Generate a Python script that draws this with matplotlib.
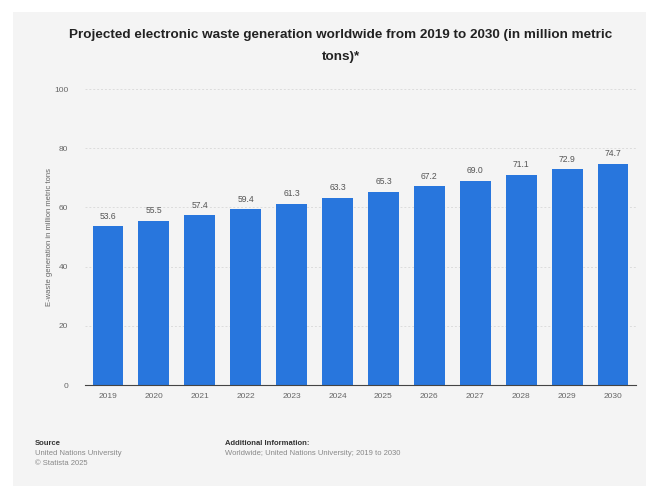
import matplotlib
matplotlib.use("Agg")
import matplotlib.pyplot as plt
from matplotlib.patches import Rectangle

years = ["2019", "2020", "2021", "2022", "2023", "2024", "2025", "2026", "2027", "2028", "2029", "2030"]
values = [53.6, 55.5, 57.4, 59.4, 61.3, 63.3, 65.3, 67.2, 69.0, 71.1, 72.9, 74.7]
yticks = [0, 20, 40, 60, 80, 100]

plt.rcParams['font.family'] = ['Liberation Sans', 'DejaVu Sans']

W, H = 646, 486
fig = plt.figure(figsize=(W / 100, H / 100), dpi=100)
fig.patch.set_facecolor("white")
fig.patches.append(Rectangle((13 / W, 0.5 / H), 1 - 13 / W, (H - 12.5) / H,
                             transform=fig.transFigure, facecolor="#f4f4f4",
                             edgecolor="none", zorder=-10))

ax = fig.add_axes([85 / W, 1 - 385 / H, (636 - 85) / W, (385 - 89) / H])
ax.set_facecolor("#f4f4f4")
x = list(range(len(years)))
ax.bar(x, values, width=0.67, color="#2876dd", zorder=3)
for xi, v in zip(x, values):
    ax.annotate(f"{v:.1f}", (xi, v), xytext=(0, 4), textcoords="offset points",
                ha="center", va="bottom", fontsize=6.2, color="#555555")
ax.set_xlim(-0.5, len(years) - 0.5)
ax.set_ylim(0, 100)
ax.set_yticks(yticks)
ax.set_yticklabels([str(t) for t in yticks])
ax.set_xticks(x)
ax.set_xticklabels(years)
ax.tick_params(axis="both", length=0, labelsize=6, colors="#666666")
ax.tick_params(axis="y", pad=12)
ax.tick_params(axis="x", pad=6)
ax.grid(axis="y", color="#dcdcdc", linestyle=(0, (2, 2)), linewidth=0.7, zorder=0)
for s in ["top", "right", "left"]:
    ax.spines[s].set_visible(False)
ax.spines["bottom"].set_color("#444444")
ax.spines["bottom"].set_linewidth(0.8)
ax.spines["bottom"].set_zorder(4)
ax.set_ylabel("E-waste generation in million metric tons", fontsize=5.5, color="#666666", labelpad=1)

fig.text(341 / W, 1 - 35 / H,
         "Projected electronic waste generation worldwide from 2019 to 2030 (in million metric",
         ha="center", va="center", fontsize=9.7, fontweight="bold", color="#222222")
fig.text(341 / W, 1 - 57 / H, "tons)*", ha="center", va="center",
         fontsize=9.7, fontweight="bold", color="#222222")

fig.text(35 / W, 1 - 443 / H, "Source", fontsize=5.5, fontweight="bold", color="#333333", va="center")
fig.text(35 / W, 1 - 453 / H, "United Nations University", fontsize=5.5, color="#888888", va="center")
fig.text(35 / W, 1 - 463 / H, "© Statista 2025", fontsize=5.5, color="#888888", va="center")
fig.text(225 / W, 1 - 443 / H, "Additional Information:", fontsize=5.5, fontweight="bold", color="#333333", va="center")
fig.text(225 / W, 1 - 453 / H, "Worldwide; United Nations University; 2019 to 2030", fontsize=5.5, color="#888888", va="center")

fig.savefig("out.png", dpi=100, facecolor=fig.get_facecolor())
